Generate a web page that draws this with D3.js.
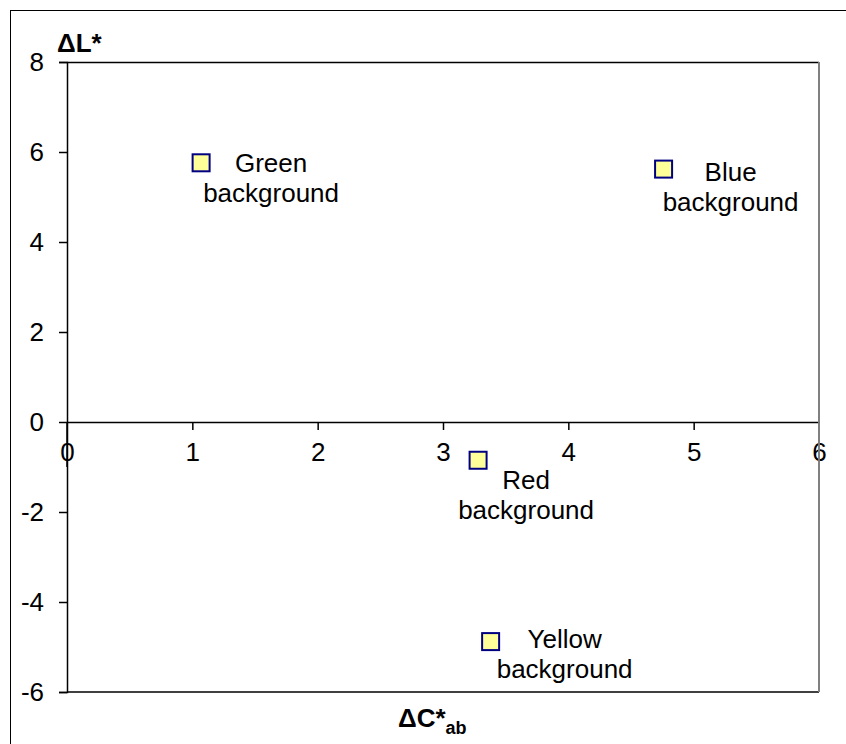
<!DOCTYPE html>
<html>
<head>
<meta charset="utf-8">
<script src="https://cdn.jsdelivr.net/npm/d3@7"></script>
<style>
  html, body { margin: 0; padding: 0; background: #fff; }
  svg { display: block; }
  text { font-family: "Liberation Sans", Arial, sans-serif; fill: #000; }
</style>
</head>
<body>
<svg id="chart" width="846" height="744"></svg>
<script>
// ---- data ----
const categories = ["Green background", "Blue background", "Red background", "Yellow background"];
const labelLines = [["Green", "background"], ["Blue", "background"], ["Red", "background"], ["Yellow", "background"]];
const deltaC = [1.07, 4.76, 3.28, 3.38];
const deltaL = [5.76, 5.62, -0.85, -4.88];
const xTicks = [0, 1, 2, 3, 4, 5, 6];
const yTicks = [-6, -4, -2, 0, 2, 4, 6, 8];

// label offsets (px) relative to each marker: [dx of text centre, dy of first line centre]
const labelOffsets = [[70, 0], [67, 3], [48, 20], [74, -3]];

const svg = d3.select("#chart");
const W = 846, H = 744;
const plot = { left: 67, right: 819, top: 62, bottom: 692 };

const x = d3.scaleLinear().domain([0, 6]).range([plot.left, plot.right]);
const y = d3.scaleLinear().domain([-6, 8]).range([plot.bottom, plot.top]);

// outer chart border (left/top visible)
svg.append("rect")
  .attr("x", 10.5).attr("y", 10.5)
  .attr("width", W).attr("height", H)
  .attr("fill", "none").attr("stroke", "#000").attr("stroke-width", 1);

// plot area frame: top & bottom black, right gray
svg.append("line").attr("x1", plot.left).attr("x2", plot.right)
  .attr("y1", plot.top + 0.5).attr("y2", plot.top + 0.5)
  .attr("stroke", "#000").attr("stroke-width", 1.5);
svg.append("line").attr("x1", plot.left).attr("x2", plot.right)
  .attr("y1", plot.bottom).attr("y2", plot.bottom)
  .attr("stroke", "#000").attr("stroke-width", 1.5);
svg.append("line").attr("x1", plot.right).attr("x2", plot.right)
  .attr("y1", plot.top).attr("y2", plot.bottom)
  .attr("stroke", "#808080").attr("stroke-width", 2);

// y axis
const yAxis = d3.axisLeft(y).tickValues(yTicks).tickSize(8).tickPadding(15)
  .tickFormat(d => d < 0 ? "-" + Math.abs(d) : String(d));
const gy = svg.append("g").attr("transform", `translate(${plot.left},0)`).call(yAxis);
gy.select(".domain").attr("stroke", "#000").attr("stroke-width", 1.5);
gy.selectAll(".tick line").attr("stroke", "#000").attr("stroke-width", 1.5);
gy.selectAll(".tick text").attr("font-size", 26)
  .attr("font-family", "'Liberation Sans', Arial, sans-serif");

// x axis at y = 0
const xAxis = d3.axisBottom(x).tickValues(xTicks).tickSize(8).tickPadding(13)
  .tickSizeOuter(0).tickFormat(d3.format("d"));
const gx = svg.append("g").attr("transform", `translate(0,${y(0)})`).call(xAxis);
gx.select(".domain").attr("stroke", "#000").attr("stroke-width", 1.5);
gx.selectAll(".tick line").attr("stroke", "#000").attr("stroke-width", 1.5)
  .filter(d => d === 0 || d === 6).remove();
gx.selectAll(".tick text").attr("font-size", 26)
  .attr("font-family", "'Liberation Sans', Arial, sans-serif");
// re-draw borders over axis end labels
svg.append("line").attr("x1", plot.right).attr("x2", plot.right)
  .attr("y1", y(0) - 1).attr("y2", y(0) + 45)
  .attr("stroke", "#808080").attr("stroke-width", 2).attr("opacity", 0.9);
svg.append("line").attr("x1", plot.left).attr("x2", plot.left)
  .attr("y1", y(0)).attr("y2", y(0) + 45)
  .attr("stroke", "#000").attr("stroke-width", 1.5);

// axis titles
svg.append("text").attr("x", 57).attr("y", 52)
  .attr("font-size", 26).attr("font-weight", "bold").text("ΔL*");
const xt = svg.append("text").attr("x", 398).attr("y", 727)
  .attr("font-size", 26).attr("font-weight", "bold");
xt.append("tspan").text("ΔC*");
xt.append("tspan").attr("font-size", 18).attr("dy", 7).text("ab");

// markers
const pts = categories.map((c, i) => ({ c, cx: deltaC[i], cy: deltaL[i], lines: labelLines[i], off: labelOffsets[i] }));
const ms = 17;
svg.append("g").selectAll("rect").data(pts).join("rect")
  .attr("x", d => x(d.cx) - ms / 2)
  .attr("y", d => y(d.cy) - ms / 2)
  .attr("width", ms).attr("height", ms)
  .attr("fill", "#FFFF99").attr("stroke", "#000080").attr("stroke-width", 2);

// labels
const lg = svg.append("g").selectAll("text").data(pts).join("text")
  .attr("text-anchor", "middle").attr("font-size", 26)
  .attr("x", d => x(d.cx) + d.off[0])
  .attr("y", d => y(d.cy) + d.off[1]);
lg.each(function(d) {
  const t = d3.select(this);
  d.lines.forEach((ln, k) => {
    t.append("tspan").attr("x", x(d.cx) + d.off[0])
      .attr("dy", k === 0 ? "0.35em" : 30).text(ln);
  });
});
</script>
</body>
</html>
